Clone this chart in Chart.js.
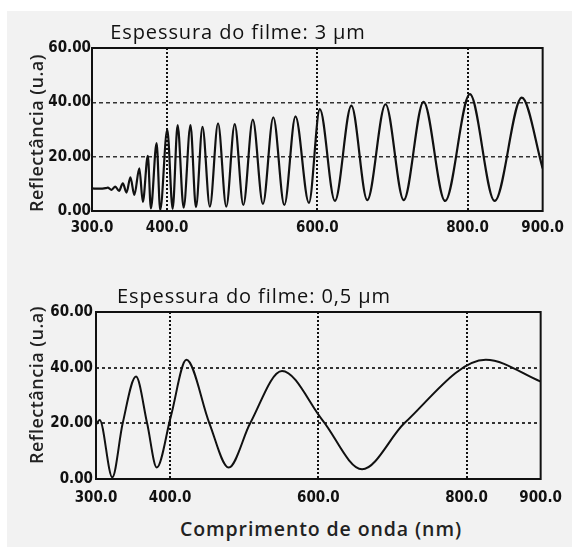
<!DOCTYPE html>
<html>
<head>
<meta charset="utf-8">
<script src="https://cdn.jsdelivr.net/npm/chart.js@4.4.0/dist/chart.umd.min.js"></script>
<style>
  html, body { margin: 0; padding: 0; background: #fff; }
  body { width: 572px; height: 547px; position: relative; overflow: hidden; font-family: 'Open Sans', sans-serif; }
  #fondo { position: absolute; left: 7px; top: 11px; right: 0; bottom: 0; background: #f2f2f2; }
  canvas { position: absolute; left: 0; }
  .titulo { position: absolute; font-size: 20px; letter-spacing: 0.9px; color: #111; white-space: nowrap; transform: translate(-50%, -50%); }
  .eixo-y { position: absolute; font-size: 18px; letter-spacing: 0.5px; font-weight: 600; color: #222; white-space: nowrap; transform: translate(-50%, -50%) rotate(-90deg); }
  .eixo-x { position: absolute; font-size: 19.5px; letter-spacing: 0.9px; font-weight: 600; color: #222; white-space: nowrap; transform: translate(-50%, -50%); }
</style>
</head>
<body>
<div id="fondo"></div>
<canvas id="grafico3" width="572" height="250" style="top:0"></canvas>
<canvas id="grafico05" width="572" height="250" style="top:260px"></canvas>
<div class="titulo" style="left:238px; top:31px">Espessura do filme: 3 µm</div>
<div class="titulo" style="left:254px; top:295px">Espessura do filme: 0,5 µm</div>
<div class="eixo-y" style="left:36px; top:133px">Reflectância (u.a)</div>
<div class="eixo-y" style="left:36px; top:385px">Reflectância (u.a)</div>
<div class="eixo-x" style="left:321px; top:528px">Comprimento de onda (nm)</div>
<script>
// filme de 3 um (extremos)
const wavelength3um = [300, 310, 318, 321, 326, 331, 336, 341, 346, 351.1, 356.4, 363.0, 367.7, 374.3, 378.4, 386.0, 390.8,
  400.2, 407.4, 414.0, 422.0, 431.1, 438.4, 447.1, 456.9, 467.8, 478.8, 490.0, 501.5, 514.1, 527.6, 541.4, 556.1,
  570.9, 588.8, 603.3, 623.4, 645.3, 666.5, 690.8, 715.0, 741.4, 770.1, 803.1, 836.1, 872.2, 900];
const reflect3um = [8.3, 8.2, 8.4, 8.6, 7.8, 9.0, 7.4, 10.2, 6.8, 12.4, 5.9, 15.7, 3.4, 20.3, 1.0, 25.0, 0.4,
  30.0, 0.8, 31.6, 1.2, 31.6, 1.4, 31.0, 1.6, 32.3, 1.6, 32.0, 2.2, 33.6, 2.6, 34.5, 2.2,
  34.8, 3.0, 37.5, 3.7, 38.8, 4.0, 39.3, 4.0, 40.2, 3.7, 43.0, 3.7, 41.7, 15.7];

// filme de 0,5 um
const wavelength05um = [300, 305, 322, 336, 354, 369, 382, 401, 422, 453, 479, 508, 551, 606, 659, 716, 826, 900];
const reflect05um = [19.5, 21.2, 0.6, 20, 36.8, 20, 4.1, 22.5, 42.8, 20, 4.1, 20, 38.8, 21, 3.5, 20, 42.8, 35];

const xTicks = [300, 400, 600, 800, 900];
const yTicks = [0, 20, 40, 60];
const xGrid = [400, 600, 800];
const yGrid = [20, 40];

const fonteTicks = { family: "'Liberation Sans Narrow', 'DejaVu Sans Condensed', sans-serif", size: 15, weight: 'bold' };

const marco = {
  id: 'marco',
  afterDraw(chart) {
    const { ctx, chartArea: a } = chart;
    ctx.save();
    ctx.strokeStyle = '#111';
    ctx.lineWidth = 2;
    ctx.strokeRect(a.left, a.top, a.right - a.left, a.bottom - a.top);
    ctx.restore();
  }
};

function crearGrafico(id, xs, ys, cfg) {
  const ctx = document.getElementById(id).getContext('2d');
  return new Chart(ctx, {
    type: 'line',
    data: {
      datasets: [{
        data: xs.map((x, i) => ({ x: x, y: ys[i] })),
        borderColor: '#111',
        borderWidth: cfg.lw,
        pointRadius: 0,
        fill: false,
        cubicInterpolationMode: 'monotone'
      }]
    },
    options: {
      responsive: false,
      animation: false,
      events: [],
      layout: { padding: cfg.padding },
      plugins: { legend: { display: false }, tooltip: { enabled: false } },
      scales: {
        x: {
          type: 'linear',
          min: 300,
          max: 900,
          afterBuildTicks: s => { s.ticks = xTicks.map(v => ({ value: v })); },
          afterFit: s => { s.height = 30; },
          ticks: {
            autoSkip: false,
            maxRotation: 0,
            padding: cfg.xPad,
            color: '#111',
            font: fonteTicks,
            callback: v => v.toFixed(1)
          },
          grid: {
            drawTicks: false,
            lineWidth: 2,
            color: c => xGrid.includes(c.tick && c.tick.value) ? '#111' : 'transparent'
          },
          border: { display: false, dash: [2, 2] }
        },
        y: {
          min: 0,
          max: 60,
          afterBuildTicks: s => { s.ticks = yTicks.map(v => ({ value: v })); },
          afterFit: s => { s.width = cfg.yWidth; },
          ticks: {
            autoSkip: false,
            padding: cfg.yPad,
            color: '#111',
            font: fonteTicks,
            callback: v => v.toFixed(2)
          },
          grid: {
            drawTicks: false,
            lineWidth: cfg.hLine,
            color: c => yGrid.includes(c.tick && c.tick.value) ? '#333' : 'transparent'
          },
          border: { display: false, dash: cfg.hDash }
        }
      }
    },
    plugins: [marco]
  });
}

crearGrafico('grafico3', wavelength3um, reflect3um,
  { padding: { left: 0, top: 48, right: 26, bottom: 9 }, yWidth: 92, yPad: 1, xPad: 8, hLine: 1.5, hDash: [4, 3], lw: 2.2 });
crearGrafico('grafico05', wavelength05um, reflect05um,
  { padding: { left: 0, top: 52, right: 21, bottom: 1 }, yWidth: 96, yPad: 3, xPad: 10, hLine: 2, hDash: [3, 3], lw: 2 });
</script>
</body>
</html>
